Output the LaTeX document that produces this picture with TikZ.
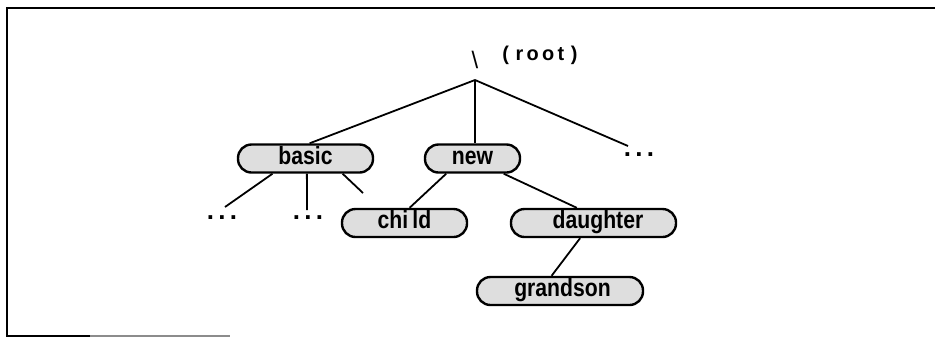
\documentclass[tikz,border=0pt]{standalone}
\usepackage{fontspec}
\setmainfont{Liberation Sans}
\newfontfamily\condbold[FakeStretch=0.85]{Liberation Sans Bold}
\newfontfamily\dotsfont{Liberation Sans Bold}
\usetikzlibrary{calc}
\tikzset{
  dirbox/.style={draw=black, line width=2.4pt, fill=black!13, rounded corners=13.5bp,
    minimum height=28bp, inner sep=0pt, text height=15bp, text depth=4bp,
    font=\condbold\fontsize{25}{27}\selectfont},
  conn/.style={line width=1.8pt, black},
  dotsnode/.style={inner sep=0pt, anchor=base, font=\dotsfont\fontsize{26}{28}\selectfont},
  frame/.style={line width=2.6pt, black}
}
\begin{document}
\begin{tikzpicture}[x=1bp,y=-1bp]
\useasboundingbox (0,0) rectangle (935,338);
% frame
\coordinate (f1) at (7,336);
\coordinate (f2) at (7,8);
\coordinate (f3) at (935,8);
\coordinate (f4) at (90,336);
\coordinate (f5) at (230,336);
\draw[frame] (f3) -- (f2) -- (f1) -- (f4);
\draw[line width=1.2pt, black!45] (f4) -- (f5);
% root
\node[inner sep=0pt, font=\fontsize{24}{26}\selectfont] (slash) at (475,60) {\textbackslash};
\node[inner sep=0pt, font=\fontsize{20}{24}\selectfont\bfseries] (rootlbl) at (540,55) {(\,\,r\,o\,o\,t\,\,)};
\coordinate (root) at (475,80);
% nodes
\node[dirbox, minimum width=135bp] (basic) at (305.5,158.5) {basic\hspace{16bp}};
\node[dirbox, minimum width=95bp] (new) at (472.5,158.5) {new\hspace{5bp}};
\node[dirbox, minimum width=125bp] (child) at (404.5,223) {chi\,ld\hspace{14bp}};
\node[dirbox, minimum width=165bp] (daughter) at (593.5,223) {\hspace{9bp}daughter};
\node[dirbox, minimum width=166bp] (grandson) at (560,291) {\hspace{5bp}grandson};
\node[dotsnode] (dotsR) at (639,156) {.\,.\,.};
\node[dotsnode] (dotsA) at (222,219) {.\,.\,.};
\node[dotsnode] (dotsB) at (308,219) {.\,.\,.};
\coordinate (endR) at (628,146);
\coordinate (endA) at (225,207);
\coordinate (endB) at (307,210);
\coordinate (endC) at (363,193);
% connectors
\draw[conn] (root) -- ($(basic.north west)!0.53!(basic.north east)$);
\draw[conn] (root) -- (new.north -| root);
\draw[conn] (root) -- (endR);
\draw[conn] ($(basic.south west)!0.26!(basic.south east)$) -- (endA);
\draw[conn] ($(basic.south west)!0.51!(basic.south east)$) -- (endB);
\draw[conn] ($(basic.south west)!0.77!(basic.south east)$) -- (endC);
\draw[conn] ($(new.south west)!0.23!(new.south east)$) -- ($(child.north west)!0.54!(child.north east)$);
\draw[conn] ($(new.south west)!0.82!(new.south east)$) -- ($(daughter.north west)!0.40!(daughter.north east)$);
\draw[conn] ($(daughter.south west)!0.42!(daughter.south east)$) -- ($(grandson.north west)!0.45!(grandson.north east)$);
\end{tikzpicture}
\end{document}
